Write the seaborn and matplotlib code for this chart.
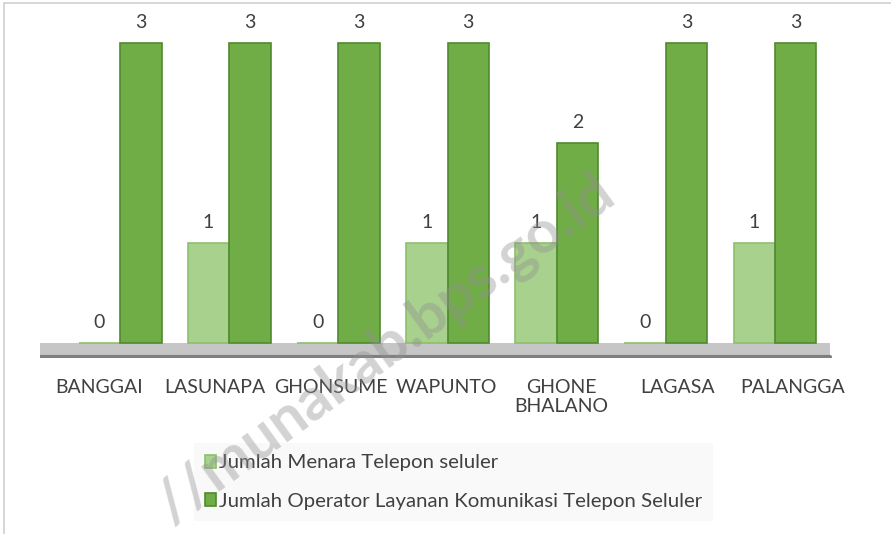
import numpy as np
import pandas as pd
import matplotlib
matplotlib.use("Agg")
import matplotlib.pyplot as plt
import seaborn as sns

villages = ["BANGGAI", "LASUNAPA", "GHONSUME", "WAPUNTO", "GHONE\nBHALANO", "LAGASA", "PALANGGA"]
menara = [0, 1, 0, 1, 1, 0, 1]
operator = [3, 3, 3, 3, 2, 3, 3]
series = ["Jumlah Menara Telepon seluler",
          "Jumlah Operator Layanan Komunikasi Telepon Seluler"]

df = pd.DataFrame({
    "desa": villages * 2,
    "jumlah": menara + operator,
    "seri": [series[0]] * len(villages) + [series[1]] * len(villages),
})

sns.set_style("white")
plt.rcParams['font.family'] = ['Lato', 'DejaVu Sans']
text_col = '#404040'

fig = plt.figure(figsize=(8.91, 5.34), dpi=100)
ax = fig.add_axes([40 / 891, 1 - 358 / 534, 810 / 891, 345 / 534])

colors = ['#a9d18e', '#70ad47']
edges = ['#8cbf6c', '#4f8a2e']
sns.barplot(data=df, x="desa", y="jumlah", hue="seri", order=villages,
            hue_order=series, palette=colors, width=0.76, gap=0,
            saturation=1, ax=ax, legend=False, zorder=3)

for cont, ec in zip(ax.containers, edges):
    for bar in cont:
        bar.set_edgecolor(ec)
        bar.set_linewidth(1.2)
    ax.bar_label(cont, fmt='%d', padding=9, fontsize=14, color=text_col)

# floor of the chart
ax.axhspan(-0.15, 0, xmin=0, xmax=0.975, color='#c6c6c6', zorder=1, lw=0)
ax.axhline(-0.14, xmin=0, xmax=0.975, color='#7f7f7f', lw=3, zorder=2)

ax.set_xlim(-0.733, 6.687)
ax.set_ylim(-0.15, 3.3)
# labels sit on the front edge of the 3D floor, so they spread a bit wider
ax.set_xticks(np.arange(len(villages)) * 1.059 - 0.19)
ax.set_xticklabels(villages, fontsize=14, color=text_col, linespacing=1.15)
ax.tick_params(axis='x', length=0, pad=15)
ax.set_yticks([])
ax.set_xlabel("")
ax.set_ylabel("")
sns.despine(ax=ax, left=True, bottom=True)

handles = [plt.Rectangle((0, 0), 1, 1, facecolor=c, edgecolor=e, lw=1.2)
           for c, e in zip(colors, edges)]
leg = fig.legend(handles, series, loc='upper left',
                 bbox_to_anchor=(194 / 891, 1 - 443 / 534),
                 frameon=True, fontsize=14.7, handlelength=0.55, handleheight=0.6,
                 handletextpad=0.12, labelspacing=1.05, borderpad=0.55,
                 borderaxespad=0, fancybox=False)
leg.get_frame().set_facecolor('#f8f8f8')
leg.get_frame().set_edgecolor('none')
for t in leg.get_texts():
    t.set_color(text_col)

# outer frame of the chart
fig.add_artist(plt.Rectangle((4 / 891, -0.1), 1.2, 1.1 - 3 / 534,
                             transform=fig.transFigure, fill=False,
                             edgecolor='#d0d0d0', lw=1.2))

# watermark
fig.text(385 / 891, 1 - 350 / 534, "//munakab.bps.go.id", rotation=36,
         ha='center', va='center', fontsize=43, fontweight='bold',
         color='#909090', alpha=0.4, zorder=10)

fig.savefig("out.png", dpi=100)
